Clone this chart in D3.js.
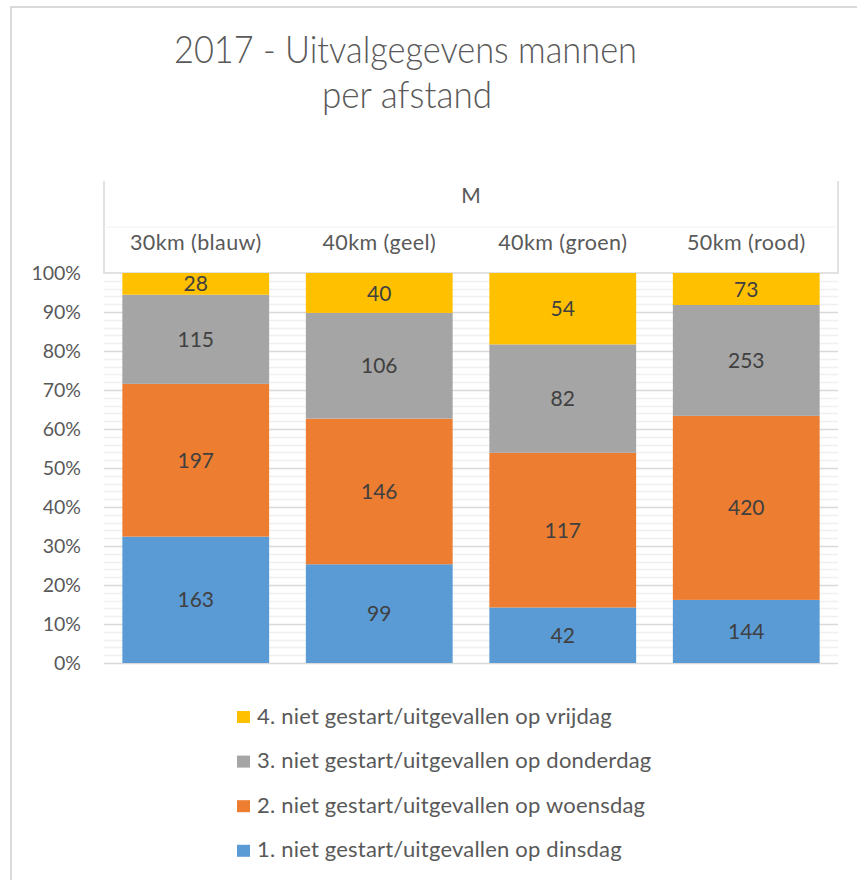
<!DOCTYPE html>
<html><head><meta charset="utf-8">
<script src="https://cdn.jsdelivr.net/npm/d3@7"></script>
<style>body{margin:0;background:#fff}svg{display:block}text{font-family:Lato,"Open Sans",sans-serif}</style>
</head><body><svg id="c" width="857" height="880"></svg>
<script>
const categories = ["30km (blauw)", "40km (geel)", "40km (groen)", "50km (rood)"];
const seriesNames = ["1. niet gestart/uitgevallen op dinsdag", "2. niet gestart/uitgevallen op woensdag", "3. niet gestart/uitgevallen op donderdag", "4. niet gestart/uitgevallen op vrijdag"];
const dinsdag = [163, 99, 42, 144];
const woensdag = [197, 146, 117, 420];
const donderdag = [115, 106, 82, 253];
const vrijdag = [28, 40, 54, 73];
const colors = ["#5B9BD5", "#ED7D31", "#A5A5A5", "#FFC000"];
const majorTicks = [0, 0.1, 0.2, 0.3, 0.4, 0.5, 0.6, 0.7, 0.8, 0.9, 1.0];
const minorTicks = d3.range(0, 51).map(i => i / 50);

const svg = d3.select("#c");
const keys = ["d", "w", "o", "v"];
const table = categories.map((c, i) => ({cat: c, d: dinsdag[i], w: woensdag[i], o: donderdag[i], v: vrijdag[i]}));
const stacked = d3.stack().keys(keys).offset(d3.stackOffsetExpand)(table);

const x = d3.scaleBand().domain(categories).range([104, 838]).paddingInner(0.2).paddingOuter(0.1);
const y = d3.scaleLinear().domain([0, 1]).range([663, 273]);

// outer border
svg.append("path").attr("d", "M11,880 L11,7 L857,7").attr("fill", "none").attr("stroke", "#d9d9d9").attr("stroke-width", 2);

// title
svg.append("text").attr("x", 405.5).attr("y", 63).attr("text-anchor", "middle").attr("fill", "#595959")
  .attr("font-size", 38).attr("font-weight", 300).attr("textLength", 463).attr("lengthAdjust", "spacingAndGlyphs")
  .text("2017 - Uitvalgegevens mannen");
svg.append("text").attr("x", 407).attr("y", 108).attr("text-anchor", "middle").attr("fill", "#595959")
  .attr("font-size", 38).attr("font-weight", 300).attr("textLength", 170).attr("lengthAdjust", "spacingAndGlyphs")
  .text("per afstand");

// header box
svg.append("path").attr("d", "M104,181 L104,273 L838,273 L838,181").attr("fill", "none").attr("stroke", "#d9d9d9").attr("stroke-width", 1.5);
svg.append("line").attr("x1", 104).attr("x2", 838).attr("y1", 227).attr("y2", 227).attr("stroke", "#f2f2f2").attr("stroke-width", 1);
svg.append("text").attr("x", 471).attr("y", 203).attr("text-anchor", "middle").attr("fill", "#595959").attr("font-size", 21).text("M");
svg.append("g").selectAll("text").data(categories).join("text")
  .attr("x", d => x(d) + x.bandwidth() / 2).attr("y", 250).attr("text-anchor", "middle")
  .attr("fill", "#595959").attr("font-size", 21.5).attr("letter-spacing", 0.4).text(d => d);

// gridlines
svg.append("g").selectAll("line").data(minorTicks.filter(t => Math.round(t * 50) % 5 !== 0)).join("line")
  .attr("x1", 104).attr("x2", 838).attr("y1", d => Math.round(y(d)) + 0.5).attr("y2", d => Math.round(y(d)) + 0.5)
  .attr("stroke", "#f0f0f0").attr("stroke-width", 1.5);
svg.append("g").selectAll("line").data(majorTicks.slice(0, -1)).join("line")
  .attr("x1", 104).attr("x2", 838).attr("y1", d => Math.round(y(d)) + 0.5).attr("y2", d => Math.round(y(d)) + 0.5)
  .attr("stroke", "#d9d9d9").attr("stroke-width", 1.5);

// y axis
const ax = svg.append("g").attr("transform", "translate(104,0)")
  .call(d3.axisLeft(y).tickValues(majorTicks).tickSize(0).tickPadding(23).tickFormat(d3.format(".0%")));
ax.select(".domain").remove();
ax.selectAll("text").attr("fill", "#595959").attr("font-size", 19.5).attr("font-family", "Lato");

// bars
const g = svg.append("g");
stacked.forEach((s, si) => {
  g.append("g").attr("fill", colors[si]).selectAll("rect").data(s).join("rect")
    .attr("x", d => x(d.data.cat)).attr("width", x.bandwidth())
    .attr("y", d => y(d[1])).attr("height", d => y(d[0]) - y(d[1]));
  g.append("g").selectAll("text").data(s).join("text")
    .attr("x", d => x(d.data.cat) + x.bandwidth() / 2).attr("y", d => (y(d[0]) + y(d[1])) / 2)
    .attr("dy", "0.36em").attr("text-anchor", "middle").attr("fill", "#404040").attr("font-size", 21)
    .text(d => d.data[keys[si]]);
});

// legend
const legOrder = [3, 2, 1, 0];
const lg = svg.append("g").selectAll("g").data(legOrder).join("g")
  .attr("transform", (d, i) => `translate(237,${711 + i * 44.6})`);
lg.append("rect").attr("width", 13).attr("height", 12).attr("fill", d => colors[d]);
lg.append("text").attr("x", 20).attr("y", 12.5).attr("fill", "#595959").attr("font-size", 22).attr("letter-spacing", 0.2).text(d => seriesNames[d]);
</script></body></html>
